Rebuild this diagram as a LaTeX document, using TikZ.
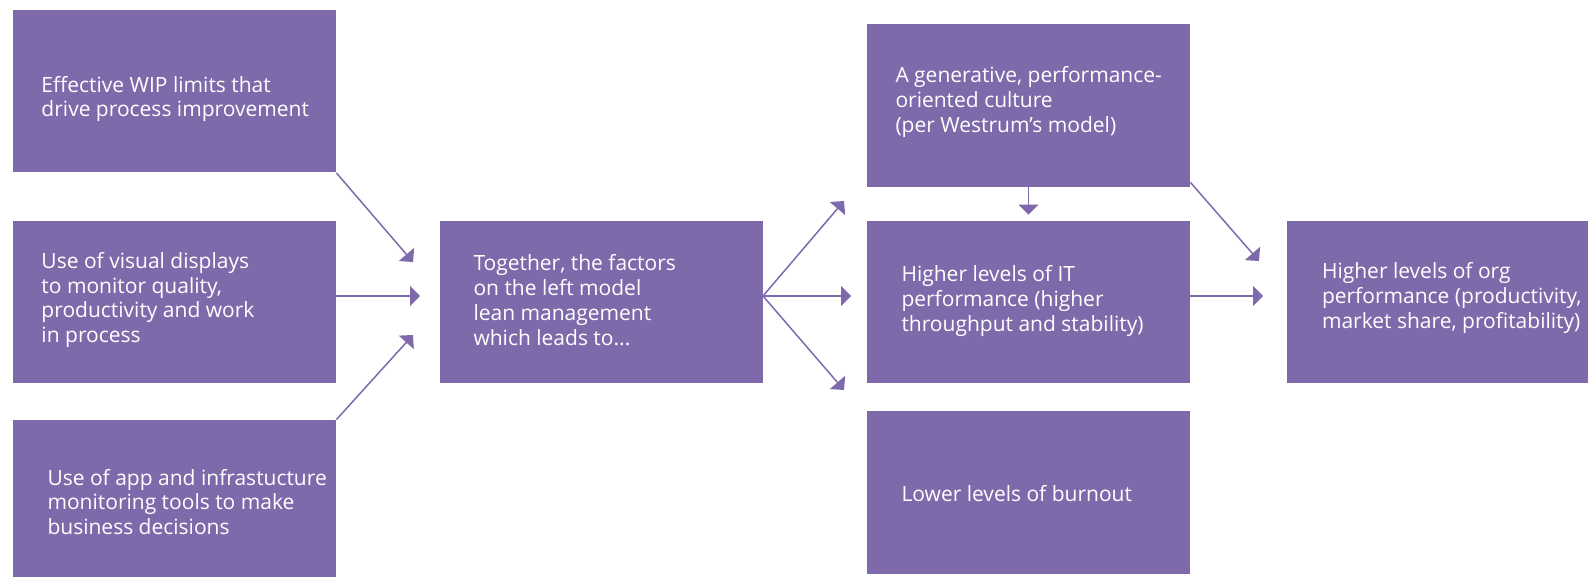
\documentclass[tikz,border=0pt]{standalone}
\usepackage{fontspec}
\setmainfont{Open Sans}
\usetikzlibrary{arrows.meta}

\definecolor{leanpurple}{RGB}{126,106,171}

\begin{document}
\begin{tikzpicture}
	[x=1pt, y=-1pt, thick,
	box/.style = {fill=leanpurple, minimum width=323pt, minimum height=162pt, inner sep=0pt},
	txt/.style = {anchor=west, align=left, text=white, inner sep=0pt, font=\fontsize{21}{24.8}\selectfont},
	arr/.style = {draw=leanpurple, line width=1.5pt, -{Triangle[width=20pt,length=10pt]}, leanpurple}]
	\useasboundingbox (0,0) rectangle (1588,577);

	% left column
	\node[box] (wip) at (174.5,91.5) {};
	\node[box] (visual) at (174.5,302) {};
	\node[box] (monitor) at (174.5,501) {};
	\node[txt] (wiptext) at ([xshift=28.5pt,yshift=-7.5pt]wip.west) {Effective WIP limits that\\drive process improvement};
	\node[txt] (visualtext) at ([xshift=28.5pt,yshift=2pt]visual.west) {Use of visual displays\\to monitor quality,\\productivity and work\\in process};
	\node[txt] (monitortext) at ([xshift=34.5pt,yshift=-1pt]monitor.west) {Use of app and infrastucture\\monitoring tools to make\\business decisions};

	% lean management
	\node[box] (lean) at (601.5,302) {};
	\node[txt] (leantext) at ([xshift=33.5pt,yshift=2pt]lean.west) {Together, the factors\\on the left model\\lean management\\which leads to...};

	% outcomes
	\node[box, minimum height=163pt] (culture) at (1028.5,105.5) {};
	\node[box] (itperf) at (1028.5,302) {};
	\node[box, minimum height=163pt] (burnout) at (1028.5,492.5) {};
	\node[txt] (culturetext) at ([xshift=28.5pt,yshift=3.5pt]culture.west) {A generative, performance-\\oriented culture\\(per Westrum’s model)};
	\node[txt] (itperftext) at ([xshift=34.5pt,yshift=1pt]itperf.west) {Higher levels of IT\\performance (higher\\throughput and stability)};
	\node[txt] (burnouttext) at ([xshift=34.5pt,yshift=-1pt]burnout.west) {Lower levels of burnout};

	\node[box, minimum width=301pt] (orgperf) at (1437.5,302) {};
	\node[txt] (orgperftext) at ([xshift=35pt,yshift=4pt]orgperf.west) {Higher levels of org\\performance (productivity,\\market share, profitability)};

	% arrow ends
	\coordinate (in1) at (413,262);
	\coordinate (in2) at (420,296);
	\coordinate (in3) at (413,335);
	\coordinate (fan) at (763,296);
	\coordinate (out1) at (844,201);
	\coordinate (out2) at (851,296);
	\coordinate (out3) at (844,390);
	\coordinate (org1) at (1259,261);
	\coordinate (org2) at (1263,296);

	\draw[arr] (wip.south east) -- (in1);
	\draw[arr] (visual.east |- in2) -- (in2);
	\draw[arr] (monitor.north east) -- (in3);
	\draw[arr] (fan) -- (out1);
	\draw[arr] (fan) -- (out2);
	\draw[arr] (fan) -- (out3);
	\draw[arr, shorten >=6pt] (culture.south) -- (itperf.north);
	\draw[arr] ([yshift=5pt]culture.south east) -- (org1);
	\draw[arr] (itperf.east |- org2) -- (org2);

\end{tikzpicture}
\end{document}
